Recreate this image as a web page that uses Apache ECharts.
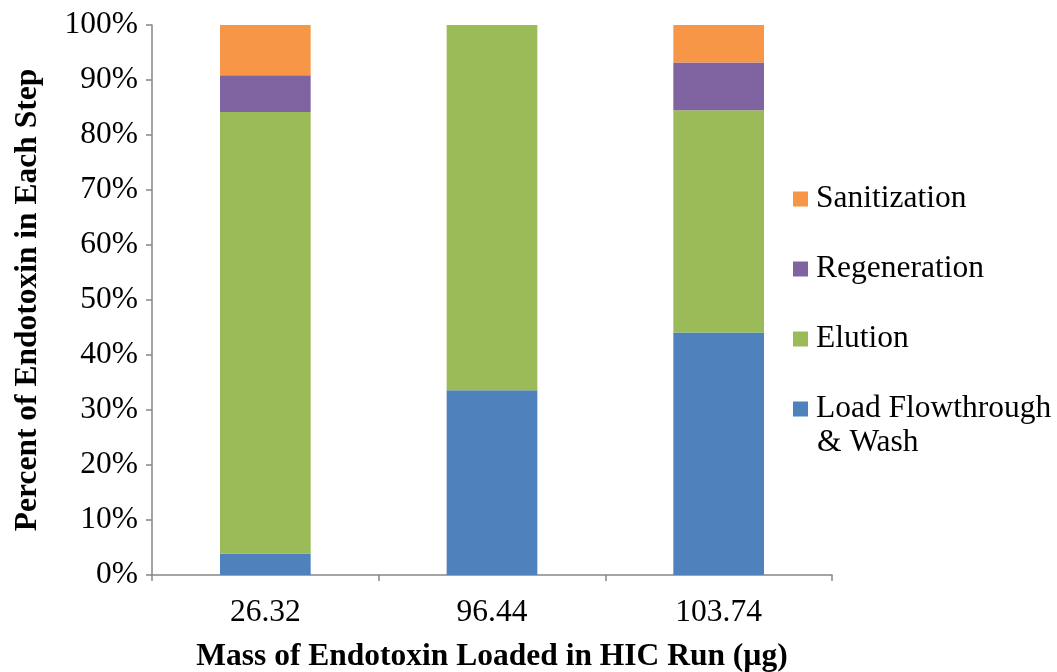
<!DOCTYPE html>
<html>
<head>
<meta charset="utf-8">
<script src="https://cdn.jsdelivr.net/npm/echarts@6/dist/echarts.min.js"></script>
<style>html,body{margin:0;padding:0;background:#fff}#c{width:1057px;height:672px}</style>
</head>
<body>
<div id="c"></div>
<script>
const categories = ['26.32', '96.44', '103.74'];
const loadWash = [3.9, 33.6, 44.1];
const elution = [80.3, 66.4, 40.4];
const regeneration = [6.65, 0, 8.7];
const sanitization = [9.15, 0, 6.8];
const yTicks = [0, 10, 20, 30, 40, 50, 60, 70, 80, 90, 100];

const FONT = '"Liberation Serif", "Times New Roman", serif';
const FS = 31.5;
const chart = echarts.init(document.getElementById('c'), null, {renderer: 'canvas'});
const axisGray = '#868686';
const mk = (name, data, color) => ({
  name, type: 'bar', stack: 'total', data, barCategoryGap: '60%',
  itemStyle: {color}, emphasis: {disabled: true}
});
chart.setOption({
  animation: false,
  textStyle: {fontFamily: FONT},
  grid: {left: 152, right: 225, top: 25, bottom: 97, containLabel: false, outerBoundsMode: 'none'},
  legend: {
    orient: 'vertical', left: 793, top: 181, padding: 0, itemWidth: 15, itemHeight: 15, itemGap: 34,
    icon: 'rect',
    data: ['Sanitization', 'Regeneration', 'Elution', 'Load Flowthrough & Wash'],
    formatter: n => n === 'Load Flowthrough & Wash' ? 'Load Flowthrough' : n,
    textStyle: {fontFamily: FONT, fontSize: FS, color: '#000', lineHeight: 36, padding: [0, 0, 0, 3]}
  },
  graphic: [{
    type: 'text', x: 817, y: 443,
    style: {text: '& Wash', font: FS + 'px ' + FONT, fill: '#000', verticalAlign: 'middle'}
  }],
  xAxis: {
    type: 'category', data: categories,
    name: 'Mass of Endotoxin Loaded in HIC Run (µg)', nameLocation: 'middle', nameGap: 66,
    nameTextStyle: {fontFamily: FONT, fontSize: FS, fontWeight: 'bold', color: '#000'},
    axisLine: {lineStyle: {color: axisGray, width: 1.5}},
    axisTick: {show: true, length: 6, lineStyle: {color: axisGray, width: 1.5}},
    axisLabel: {fontFamily: FONT, fontSize: FS, color: '#000', margin: 22}
  },
  yAxis: {
    type: 'value', min: 0, max: 100, interval: 10,
    name: 'Percent of Endotoxin in Each Step', nameLocation: 'middle', nameGap: 108,
    nameTextStyle: {fontFamily: FONT, fontSize: FS, fontWeight: 'bold', color: '#000'},
    axisLine: {show: true, lineStyle: {color: axisGray, width: 1.5}},
    axisTick: {show: true, length: 6, lineStyle: {color: axisGray, width: 1.5}},
    splitLine: {show: false},
    axisLabel: {fontFamily: FONT, fontSize: FS, color: '#000', margin: 14,
      formatter: v => yTicks.includes(v) ? v + '%' : ''}
  },
  series: [
    mk('Load Flowthrough & Wash', loadWash, '#4F81BD'),
    mk('Elution', elution, '#9BBB59'),
    mk('Regeneration', regeneration, '#8064A2'),
    mk('Sanitization', sanitization, '#F79646')
  ]
});
</script>
</body>
</html>
